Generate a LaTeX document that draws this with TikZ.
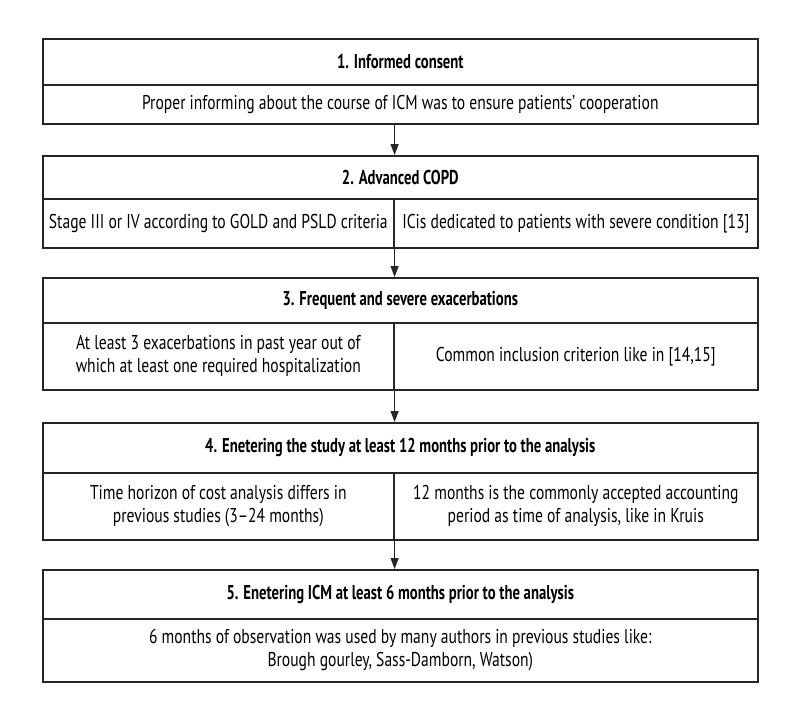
\documentclass[tikz,border=0pt]{standalone}
\usepackage{fontspec}
\setmainfont{PT Sans}[FakeStretch=0.78, BoldFeatures={FakeStretch=0.735}]
\usetikzlibrary{arrows.meta}
\definecolor{linec}{HTML}{262626}
\begin{document}
\begin{tikzpicture}[x=1pt,y=-1pt,
  cell/.style={draw=linec, line width=1.6pt, inner sep=0pt, align=center,
    anchor=north west, font=\fontsize{20}{23}\selectfont},
  head/.style={cell, font=\fontsize{20}{23}\selectfont\bfseries},
  arr/.style={draw=linec, line width=1.1pt, -{Triangle[width=8pt,length=11pt]}}]
\fill[white] (0,0) rectangle (800,720);
\useasboundingbox (0,0) rectangle (800,720);
% Box 1
\node[head, minimum width=715pt, minimum height=46pt] (h1) at (42,38) {1. Informed consent};
\node[cell, minimum width=715pt, minimum height=39pt] (b1) at (42,84) {Proper informing about the course of ICM was to ensure patients’ cooperation};
% Box 2
\node[head, minimum width=715pt, minimum height=43pt] (h2) at (42,155) {2. Advanced COPD};
\node[cell, minimum width=351pt, minimum height=49pt] (b2l) at (42,198) {Stage III or IV according to GOLD and PSLD criteria};
\node[cell, minimum width=364pt, minimum height=49pt] (b2r) at (393,198) {ICis dedicated to patients with severe condition [13]};
% Box 3
\node[head, minimum width=715pt, minimum height=45pt] (h3) at (42,277) {3. Frequent and severe exacerbations};
\node[cell, minimum width=351pt, minimum height=67pt] (b3l) at (42,322) {At least 3 exacerbations in past year out of\\which at least one required hospitalization};
\node[cell, minimum width=364pt, minimum height=67pt] (b3r) at (393,322) {Common inclusion criterion like in [14,15]};
% Box 4
\node[head, minimum width=715pt, minimum height=50pt] (h4) at (42,422) {4. Enetering the study at least 12 months prior to the analysis};
\node[cell, minimum width=351pt, minimum height=67pt] (b4l) at (42,472) {Time horizon of cost analysis differs in\\previous studies (3–24 months)};
\node[cell, minimum width=364pt, minimum height=67pt] (b4r) at (393,472) {12 months is the commonly accepted accounting\\period as time of analysis, like in Kruis};
% Box 5
\node[head, minimum width=715pt, minimum height=49pt] (h5) at (42,569) {5. Enetering ICM at least 6 months prior to the analysis};
\node[cell, minimum width=715pt, minimum height=63pt] (b5) at (42,618) {6 months of observation was used by many authors in previous studies like:\\Brough gourley, Sass-Damborn, Watson)};
% Arrows
\draw[arr] (b1.south -| b2l.south east) -- (h2.north -| b2l.south east);
\draw[arr] (b2l.south east) -- (h3.north -| b2l.south east);
\draw[arr] (b3l.south east) -- (h4.north -| b3l.south east);
\draw[arr] (b4l.south east) -- (h5.north -| b4l.south east);
\end{tikzpicture}
\end{document}
